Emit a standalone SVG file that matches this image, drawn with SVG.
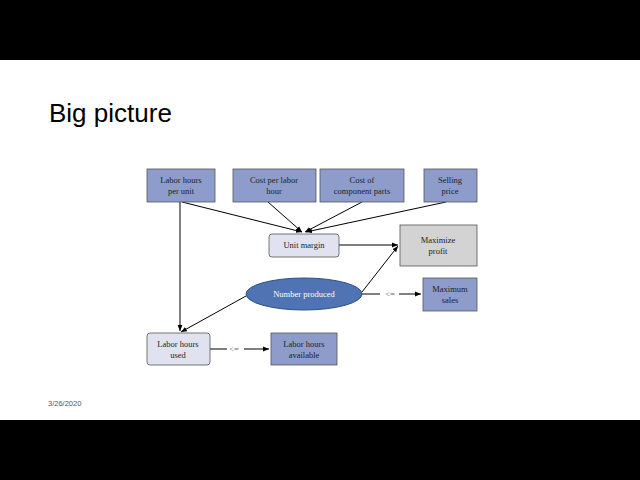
<svg xmlns="http://www.w3.org/2000/svg" width="640" height="480" viewBox="0 0 640 480">
<defs>
<marker id="a" viewBox="0 0 10 10" refX="10" refY="5" markerWidth="6" markerHeight="6" orient="auto"><path d="M0,1 L10,5 L0,9 z" fill="#000"/></marker>
<style>
.b{fill:#8d9ccb;stroke:#555;stroke-width:0.8}
.l{fill:#e1e2f0;stroke:#555;stroke-width:0.8}
.g{fill:#d3d3d3;stroke:#555;stroke-width:0.8}
text{font-family:"Liberation Serif",serif;font-size:8.5px;fill:#222;text-anchor:middle}
.c line{stroke:#000;stroke-width:1;marker-end:url(#a)}
</style>
</defs>
<rect width="640" height="480" fill="#fff"/>
<rect width="640" height="60" fill="#000"/>
<rect y="420" width="640" height="60" fill="#000"/>
<text x="49" y="122" style="font-family:'Liberation Sans',sans-serif;font-size:26px;text-anchor:start;fill:#000">Big picture</text>
<text x="48" y="406" style="font-family:'Liberation Sans',sans-serif;font-size:7.5px;text-anchor:start;fill:#555">3/26/2020</text>
<g class="c">
<line x1="180" y1="202" x2="180" y2="331"/>
<line x1="182" y1="202" x2="302" y2="232"/>
<line x1="268" y1="202" x2="302" y2="232"/>
<line x1="362" y1="202" x2="305" y2="232"/>
<line x1="446" y1="202" x2="306" y2="232"/>
<line x1="339" y1="245" x2="398" y2="245"/>
<line x1="362" y1="292" x2="398" y2="246"/>
<line x1="399" y1="294" x2="421" y2="294"/>
<line x1="246" y1="296" x2="181" y2="332"/>
<line x1="244" y1="349" x2="269" y2="349"/>
<path d="M361,294 H380 M210,349 H227" stroke="#000" fill="none"/>
</g>
<text x="390" y="297" style="fill:#666">&lt;=</text>
<text x="234" y="352" style="fill:#666">&lt;=</text>
<g id="lhpu"><rect class="b" x="147" y="169" width="68" height="33"/><text x="181" y="183">Labor hours</text><text x="181" y="194">per unit</text></g>
<g id="cplh"><rect class="b" x="233" y="169" width="83" height="33"/><text x="274" y="183">Cost per labor</text><text x="274" y="194">hour</text></g>
<g id="ccp"><rect class="b" x="320" y="169" width="84" height="33"/><text x="362" y="183">Cost of</text><text x="362" y="194">component parts</text></g>
<g id="sp"><rect class="b" x="424" y="169" width="53" height="33"/><text x="450" y="183">Selling</text><text x="450" y="194">price</text></g>
<g id="um"><rect class="l" x="269" y="234" width="70" height="23" rx="3"/><text x="304" y="248">Unit margin</text></g>
<g id="mp"><rect class="g" x="400" y="225" width="77" height="41"/><text x="438" y="243">Maximize</text><text x="438" y="254">profit</text></g>
<g id="np"><ellipse cx="304" cy="294" rx="58" ry="16" fill="#4f73b3" stroke="#2f4f8a"/><text x="304" y="297" style="fill:#fff">Number produced</text></g>
<g id="ms"><rect class="b" x="423" y="278" width="54" height="33"/><text x="450" y="292">Maximum</text><text x="450" y="303">sales</text></g>
<g id="lhu"><rect class="l" x="147" y="333" width="63" height="32" rx="3"/><text x="178" y="347">Labor hours</text><text x="178" y="358">used</text></g>
<g id="lha"><rect class="b" x="271" y="333" width="66" height="32"/><text x="304" y="347">Labor hours</text><text x="304" y="358">available</text></g>
</svg>
